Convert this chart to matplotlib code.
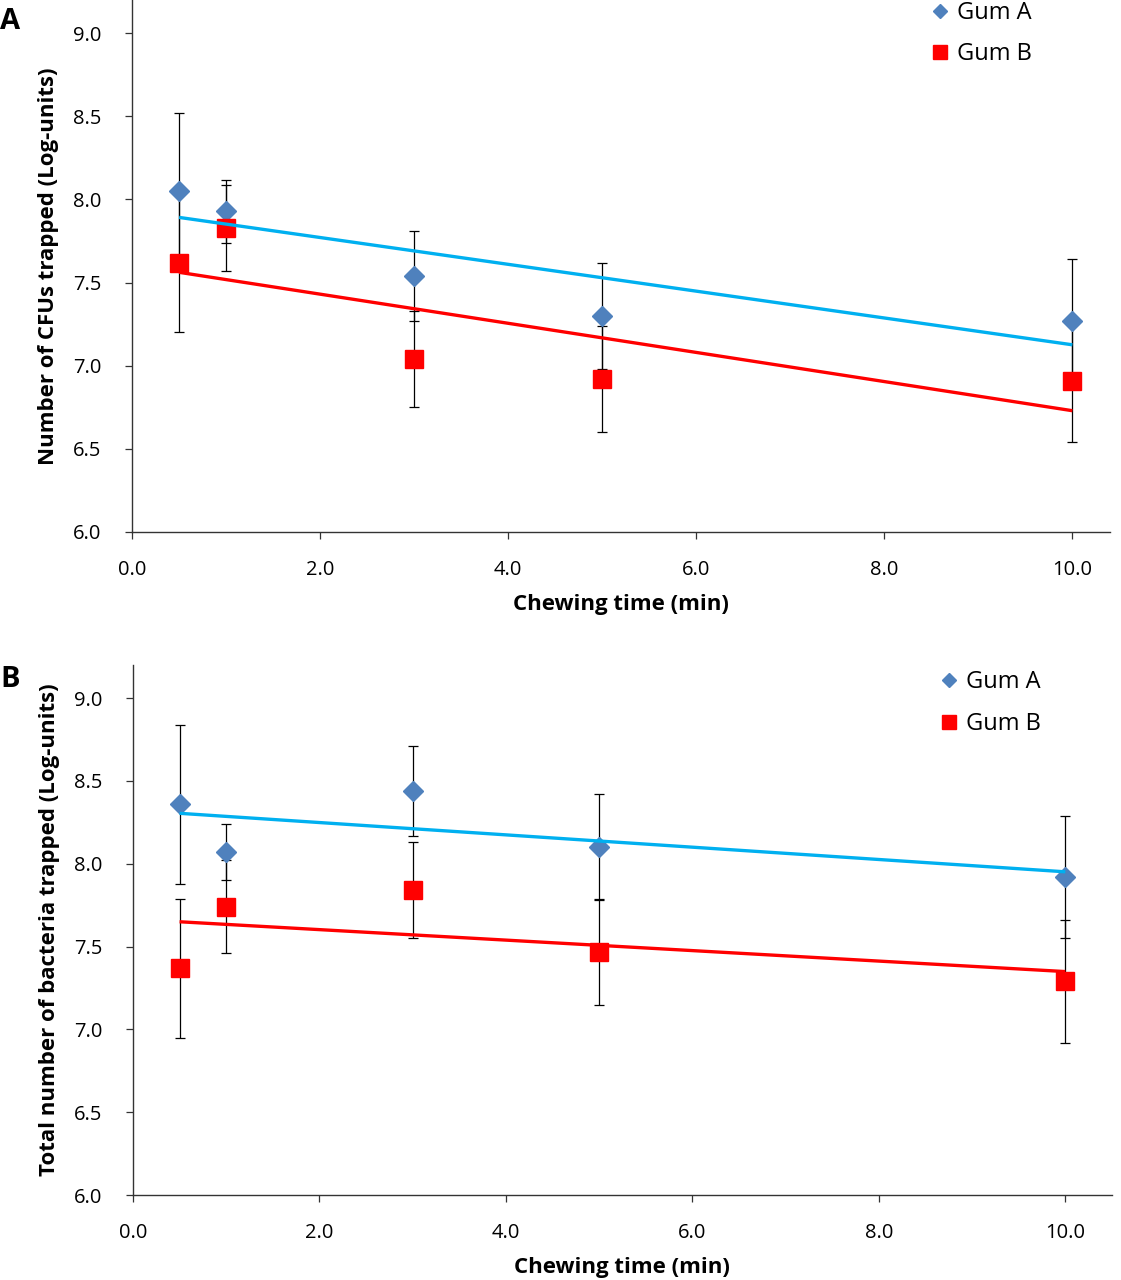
import numpy as np
import matplotlib
matplotlib.use("Agg")
import matplotlib.pyplot as plt
from matplotlib.lines import Line2D

# chewing times (min)
times = [0.5, 1.0, 3.0, 5.0, 10.0]

# panel A: CFUs trapped (log units)
cfu_a = [8.05, 7.93, 7.54, 7.30, 7.27]
cfu_a_err = [0.47, 0.19, 0.27, 0.32, 0.37]
cfu_b = [7.62, 7.83, 7.04, 6.92, 6.91]
cfu_b_err = [0.42, 0.26, 0.29, 0.32, 0.37]

# panel B: total bacteria trapped (log units)
tot_a = [8.36, 8.07, 8.44, 8.10, 7.92]
tot_a_err = [0.48, 0.17, 0.27, 0.32, 0.37]
tot_b = [7.37, 7.74, 7.84, 7.47, 7.29]
tot_b_err = [0.42, 0.28, 0.29, 0.32, 0.37]

series_names = ["Gum A", "Gum B"]
ylabels = ["Number of CFUs trapped (Log-units)",
           "Total number of bacteria trapped (Log-units)"]
panel_tags = ["A", "B"]

plt.rcParams['font.family'] = ['Open Sans', 'DejaVu Sans']

col_a = '#4F81BD'
col_b = '#FF0000'
trend_a = '#00B0F0'
trend_b = '#FF0000'

fig = plt.figure(figsize=(11.21, 12.80), dpi=100)
axA = fig.add_axes([0.1178, 0.5844, 0.8724, 0.4156])
axB = fig.add_axes([0.1186, 0.0664, 0.8733, 0.4141])

def draw_panel(ax, ya, ya_err, yb, yb_err, xmax, ylab):
    x = np.array(times)
    # error bars first
    for y, e in ((ya, ya_err), (yb, yb_err)):
        ax.errorbar(x, y, yerr=e, fmt='none', ecolor='black', elinewidth=0.9,
                    capsize=3.5, capthick=0.9, zorder=2)
    ax.plot(x, ya, linestyle='none', marker='D', ms=10, color=col_a,
            markeredgecolor=col_a, zorder=3)
    ax.plot(x, yb, linestyle='none', marker='s', ms=13.5, color=col_b,
            markeredgecolor=col_b, zorder=3)
    # linear trendlines
    for y, c in ((ya, trend_a), (yb, trend_b)):
        k, b = np.polyfit(x, y, 1)
        ax.plot([x[0], x[-1]], [k * x[0] + b, k * x[-1] + b], color=c,
                lw=2.4, zorder=4, solid_capstyle='butt')
    ax.set_xlim(0, xmax)
    ax.set_ylim(6.0, 9.2)
    ax.set_xticks(np.arange(0, 10.1, 2.0))
    ax.set_yticks(np.arange(6.0, 9.01, 0.5))
    ax.xaxis.set_major_formatter(matplotlib.ticker.FormatStrFormatter('%.1f'))
    ax.yaxis.set_major_formatter(matplotlib.ticker.FormatStrFormatter('%.1f'))
    ax.tick_params(direction='out', length=5, width=0.9, labelsize=14.5,
                   colors='#333333', labelcolor='black')
    ax.tick_params(axis='x', pad=15)
    ax.tick_params(axis='y', pad=17)
    for s in ('top', 'right'):
        ax.spines[s].set_visible(False)
    for s in ('left', 'bottom'):
        ax.spines[s].set_linewidth(1.0)
        ax.spines[s].set_color('#333333')
    ax.set_xlabel("Chewing time (min)", fontsize=16, fontweight='bold', labelpad=10)
    ax.set_ylabel(ylab, fontsize=16, fontweight='bold', labelpad=10)

draw_panel(axA, cfu_a, cfu_a_err, cfu_b, cfu_b_err, 10.4, ylabels[0])
draw_panel(axB, tot_a, tot_a_err, tot_b, tot_b_err, 10.5, ylabels[1])

handles = [Line2D([], [], linestyle='none', marker='D', ms=7.5, color=col_a),
           Line2D([], [], linestyle='none', marker='s', ms=10, color=col_b)]
fig.legend(handles, series_names, loc='upper left', bbox_to_anchor=(0.813, 1.016),
           frameon=False, fontsize=17, labelspacing=0.75, handlelength=0.6,
           handletextpad=0.45)
fig.legend(handles, series_names, loc='upper left', bbox_to_anchor=(0.821, 0.493),
           frameon=False, fontsize=17, labelspacing=0.75, handlelength=0.6,
           handletextpad=0.45)

fig.text(0.0, 0.983, panel_tags[0], fontsize=21, fontweight='bold', va='center')
fig.text(0.0, 0.469, panel_tags[1], fontsize=21, fontweight='bold', va='center')

fig.savefig('out.png', dpi=100, facecolor='white')
